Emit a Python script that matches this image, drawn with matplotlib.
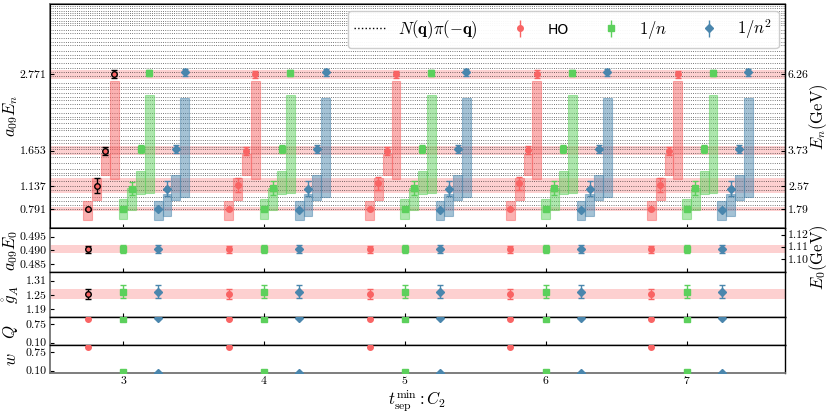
import numpy as np
import matplotlib
matplotlib.use("Agg")
import matplotlib.pyplot as plt
import matplotlib.transforms as mtrans

plt.rcParams['font.family'] = 'serif'
plt.rcParams['font.serif'] = ['cmr10', 'DejaVu Serif']
plt.rcParams['mathtext.fontset'] = 'cm'
plt.rcParams['axes.unicode_minus'] = False

# ---- data ----
t_vals = [3, 4, 5, 6, 7]
models = ['HO', '1/n', '1/n2']
colors = {'HO': '#f96464', '1/n': '#5cd05c', '1/n2': '#4a86ad'}
markers = {'HO': 'o', '1/n': 's', '1/n2': 'D'}
x_shift = {'HO': -0.25, '1/n': 0.0, '1/n2': 0.25}

# a09 E_n per t (rows) and state (cols)
En_ho = [[0.791, 1.140, 1.653, 2.771],
         [0.791, 1.150, 1.653, 2.771],
         [0.791, 1.170, 1.650, 2.771],
         [0.791, 1.170, 1.655, 2.775],
         [0.791, 1.150, 1.653, 2.771]]
En_ho_err = [[0.008, 0.105, 0.058, 0.060],
             [0.008, 0.100, 0.058, 0.055],
             [0.008, 0.100, 0.058, 0.055],
             [0.008, 0.100, 0.058, 0.055],
             [0.008, 0.100, 0.058, 0.055]]
En_n = [[0.791, 1.095, 1.670, 2.790],
        [0.791, 1.100, 1.670, 2.790],
        [0.791, 1.100, 1.670, 2.790],
        [0.791, 1.100, 1.670, 2.790],
        [0.791, 1.100, 1.670, 2.790]]
En_n_err = [[0.010, 0.100, 0.060, 0.050],
            [0.010, 0.100, 0.060, 0.050],
            [0.010, 0.100, 0.060, 0.050],
            [0.010, 0.100, 0.060, 0.050],
            [0.010, 0.100, 0.060, 0.050]]
En_n2 = [[0.790, 1.095, 1.680, 2.800],
         [0.788, 1.095, 1.680, 2.800],
         [0.788, 1.095, 1.680, 2.800],
         [0.788, 1.095, 1.680, 2.800],
         [0.788, 1.095, 1.680, 2.800]]
En_n2_err = [[0.012, 0.105, 0.060, 0.055],
             [0.012, 0.105, 0.060, 0.055],
             [0.012, 0.105, 0.060, 0.055],
             [0.012, 0.105, 0.060, 0.055],
             [0.012, 0.105, 0.060, 0.055]]

# prior boxes (lo, hi) per state
prior_ho = [(0.63, 0.92), (0.93, 1.25), (1.29, 1.60), (1.23, 2.67)]
prior_n = [(0.65, 0.94), (0.78, 1.10), (1.02, 1.36), (1.03, 2.47)]
prior_n2 = [(0.64, 0.92), (0.70, 1.01), (0.93, 1.30), (0.97, 2.42)]

# chosen fit bands (centre, half width)
band_En = [(0.791, 0.030), (1.137, 0.110), (1.653, 0.062), (2.771, 0.070)]
band_E0 = (0.4904, 0.0014)
band_gA = (1.253, 0.021)

# non-interacting N(q)pi(-q) levels (lattice units)
levels = [0.80, 0.86, 0.92, 0.97, 1.07, 1.14, 1.21, 1.29, 1.33, 1.38, 1.47,
          1.56, 1.62, 1.67, 1.71, 1.77, 1.81, 1.87, 1.95, 1.99, 2.06, 2.11,
          2.15, 2.21, 2.28, 2.34, 2.39, 2.44, 2.49, 2.56, 2.59, 2.64, 2.74,
          2.80, 2.86, 2.93, 3.01, 3.05, 3.12, 3.20, 3.24, 3.30, 3.37, 3.42,
          3.49, 3.52, 3.56, 3.60, 3.64, 3.67, 3.70, 3.74, 3.78]

E0 = {'HO': [0.4904, 0.4904, 0.4904, 0.4904, 0.4904],
      '1/n': [0.4905, 0.4905, 0.4905, 0.4905, 0.4905],
      '1/n2': [0.4904, 0.4904, 0.4904, 0.4904, 0.4904]}
E0_err = {'HO': [0.0013] * 5, '1/n': [0.0013] * 5, '1/n2': [0.0014] * 5}
gA = {'HO': [1.253, 1.255, 1.254, 1.254, 1.254],
      '1/n': [1.264, 1.264, 1.264, 1.264, 1.264],
      '1/n2': [1.264, 1.264, 1.264, 1.264, 1.264]}
gA_err = {'HO': [0.021, 0.021, 0.021, 0.021, 0.021],
          '1/n': [0.028] * 5, '1/n2': [0.028] * 5}
Q = {'HO': [0.95] * 5, '1/n': [0.95] * 5, '1/n2': [0.97] * 5}
w = {'HO': [0.94, 0.95, 0.95, 0.95, 0.95], '1/n': [0.04] * 5, '1/n2': [0.02] * 5}

En = {'HO': En_ho, '1/n': En_n, '1/n2': En_n2}
En_err = {'HO': En_ho_err, '1/n': En_n_err, '1/n2': En_n2_err}
priors = {'HO': prior_ho, '1/n': prior_n, '1/n2': prior_n2}

En_ticks = [0.791, 1.137, 1.653, 2.771]
GeV_ticks = ['1.79', '2.57', '3.73', '6.26']
to_GeV = 6.26 / 2.771

TICK_FS = 8.5

# ---- figure ----
fig, axes = plt.subplots(5, 1, figsize=(8.3, 4.15), dpi=100, sharex=True,
                         gridspec_kw=dict(height_ratios=[224, 44, 45, 28, 28], hspace=0))
fig.subplots_adjust(left=0.060, right=0.946, top=0.990, bottom=0.100)
ax, ax2, ax3, ax4, ax5 = axes

dstate = 0.0625
for c, hw in band_En:
    ax.axhspan(c - hw, c + hw, color='#f96464', alpha=0.3, lw=0, zorder=0)
for lv in levels:
    ax.axhline(lv, color='k', ls=':', lw=0.6, alpha=0.7, zorder=1)

for m in models:
    for i, t in enumerate(t_vals):
        x0 = t + x_shift[m]
        for n in range(4):
            lo, hi = priors[m][n]
            ax.bar(x0 + n * dstate, hi - lo, bottom=lo, width=dstate,
                   color=colors[m], alpha=0.5, edgecolor=colors[m], lw=0.8, zorder=2)
            chosen = (m == 'HO' and i == 0)
            ax.errorbar(x0 + n * dstate, En[m][i][n], yerr=En_err[m][i][n],
                        fmt=markers[m], ms=4, color=colors[m], capsize=2, elinewidth=1,
                        mec='k' if chosen else colors[m], ecolor='k' if chosen else colors[m],
                        zorder=4)

ax.set_ylim(0.512, 3.80)
ax.set_yticks(En_ticks)
ax.set_yticklabels(['0.791', '1.137', '1.653', '2.771'])
axr = ax.twinx()
axr.set_ylim(ax.get_ylim())
axr.set_yticks(En_ticks)
axr.set_yticklabels(GeV_ticks)
axr.tick_params(direction='in', labelsize=TICK_FS, length=3, pad=2)

# legend
h_lv, = ax.plot([], [], color='k', ls=':', lw=1)
hs = [h_lv]
for m in models:
    hs.append(ax.errorbar([], [], yerr=[], fmt=markers[m], ms=4, color=colors[m],
                          capsize=2, elinewidth=1))
leg = ax.legend(hs, [r'$N(\mathbf{q})\pi(-\mathbf{q})$', 'HO', r'$1/n$', r'$1/n^2$'],
                ncol=4, loc='upper right', fontsize=12, framealpha=0.95,
                columnspacing=1.6, handlelength=1.9, handletextpad=0.7,
                borderaxespad=0.4)
leg.get_texts()[1].set_family('DejaVu Sans')
leg.get_texts()[1].set_fontsize(10)
leg.set_zorder(10)

# lower panels
def small_panel(a, vals, errs, band=None):
    if band is not None:
        a.axhspan(band[0] - band[1], band[0] + band[1], color='#f96464', alpha=0.3, lw=0, zorder=0)
    for m in models:
        for i, t in enumerate(t_vals):
            chosen = (m == 'HO' and i == 0 and errs is not None)
            a.errorbar(t + x_shift[m], vals[m][i],
                       yerr=None if errs is None else errs[m][i],
                       fmt=markers[m], ms=4, color=colors[m], capsize=2, elinewidth=1,
                       mec='k' if chosen else colors[m], ecolor='k' if chosen else colors[m],
                       zorder=4)

small_panel(ax2, E0, E0_err, band_E0)
ax2.set_ylim(0.482, 0.498)
ax2.set_yticks([0.485, 0.490, 0.495])
ax2.set_yticklabels(['0.485', '0.490', '0.495'])
sec = ax2.secondary_yaxis('right', functions=(lambda y: y * to_GeV, lambda y: y / to_GeV))
sec.set_yticks([1.10, 1.11, 1.12])
sec.set_yticklabels(['1.10', '1.11', '1.12'])
sec.tick_params(direction='in', labelsize=TICK_FS, length=3, pad=2)

small_panel(ax3, gA, gA_err, band_gA)
ax3.set_ylim(1.155, 1.345)
ax3.set_yticks([1.19, 1.25, 1.31])
ax3.set_yticklabels(['1.19', '1.25', '1.31'])

small_panel(ax4, Q, None)
ax4.set_ylim(0, 1)
ax4.set_yticks([0.10, 0.75])
ax4.set_yticklabels(['0.10', '0.75'])

small_panel(ax5, w, None)
ax5.set_ylim(0, 1)
ax5.set_yticks([0.10, 0.75])
ax5.set_yticklabels(['0.10', '0.75'])

ax5.set_xlim(2.48, 7.70)
ax5.set_xticks(t_vals)
ax5.set_xticklabels([str(t) for t in t_vals])
ax5.set_xlabel(r'$t_{\rm sep}^{\rm min}: C_2$', fontsize=12, labelpad=1)

# y labels as text so they sit where the reference has them
left_labels = [r'$a_{09}E_n$', r'$a_{09}E_0$', r'$\mathring{g}_A$', r'$Q$', r'$w$']
for a, lab in zip(axes, left_labels):
    tr = mtrans.blended_transform_factory(fig.transFigure, a.transAxes)
    a.text(11 / 830, 0.5, lab, transform=tr, rotation=90, ha='center', va='center', fontsize=12)
tr = mtrans.blended_transform_factory(fig.transFigure, ax.transAxes)
ax.text(819 / 830, 0.5, r'$E_n(\mathrm{GeV})$', transform=tr, rotation=90,
        ha='center', va='center', fontsize=12)
tr = mtrans.blended_transform_factory(fig.transFigure, ax2.transAxes)
ax2.text(819 / 830, 0.35, r'$E_0(\mathrm{GeV})$', transform=tr, rotation=90,
         ha='center', va='center', fontsize=12)

for a in axes:
    a.tick_params(direction='in', labelsize=TICK_FS, length=3, pad=2.5)
    for s in a.spines.values():
        s.set_color('0.45')
        s.set_linewidth(1.3)
for a in (ax3, ax4, ax5):
    a.spines['top'].set_color('k')
    a.spines['top'].set_linewidth(1.0)
for a in (ax2, ax3, ax4):
    a.spines['bottom'].set_color('k')
    a.spines['bottom'].set_linewidth(1.0)
for a in axes:
    a.spines['right'].set_color('k')
    a.spines['right'].set_linewidth(1.0)
axr.spines['right'].set_color('k')

fig.savefig('out.png', dpi=100)
